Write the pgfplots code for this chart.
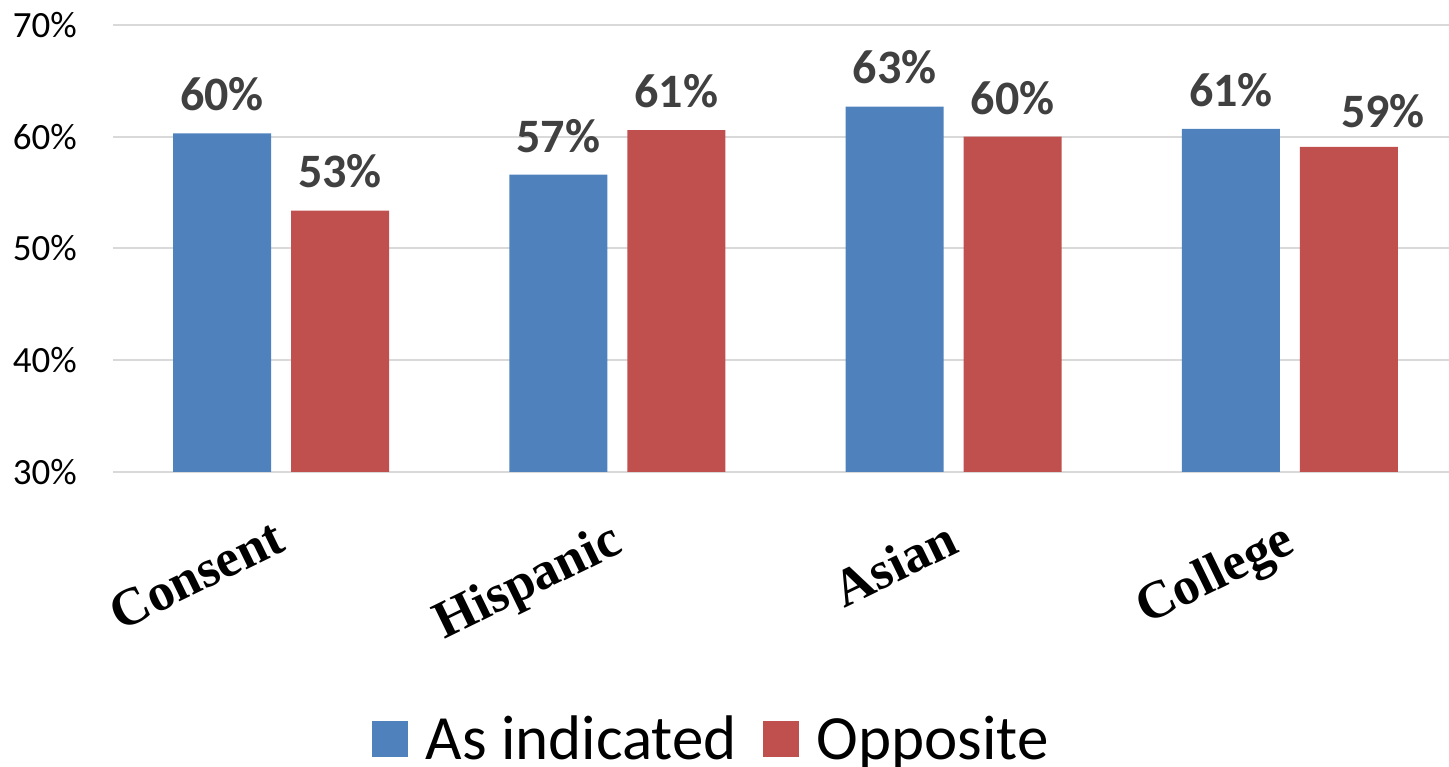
\documentclass[border=0pt]{standalone}
\usepackage{pgfplots}
\pgfplotsset{compat=1.18}
\usepackage{fontspec}
\setmainfont{Carlito}
\newfontfamily\tnr{Liberation Serif}
\definecolor{cblue}{HTML}{4F81BD}
\definecolor{cred}{HTML}{C0504D}
\definecolor{gridc}{HTML}{D9D9D9}
\definecolor{labc}{HTML}{404040}
\pgfplotstableread{
x y lab dx dy
0 60.3 60 0 0
1 56.6 57 0 0
2 62.7 63 0 0
3 60.7 61 0 0
}\blue
\pgfplotstableread{
x y lab dx dy
0 53.4 53 0 0
1 60.6 61 0 0
2 60.0 60 0 0
3 59.1 59 34 -3
}\red
\begin{document}
\begin{tikzpicture}
\begin{axis}[
  scale only axis, width=1336pt, height=447pt,
  xmin=-0.5, xmax=3.473, ymin=30, ymax=70,
  ybar=20pt, bar width=98pt,
  axis line style={draw=none}, major tick length=0pt,
  ytick={30,40,50,60,70}, yticklabels={30\%,40\%,50\%,60\%,70\%},
  ymajorgrids, grid style={gridc, line width=2pt},
  xtick={0,1,2,3}, xticklabels={Consent,Hispanic,Asian,College},
  xticklabel style={font=\tnr\bfseries\fontsize{53}{63}\selectfont, xshift=-9pt, yshift=-46pt, rotate=26, anchor=north east, inner sep=0pt},
  yticklabel style={font=\fontsize{37}{44}\selectfont, inner sep=0pt, xshift=-36pt},
  point meta=explicit symbolic,
  visualization depends on={\thisrow{dx} \as \dx},
  visualization depends on={\thisrow{dy} \as \dy},
  nodes near coords={\pgfplotspointmeta\%},
  every node near coord/.append style={font=\bfseries\fontsize{48}{58}\selectfont, text=labc, inner sep=0pt, anchor=south, yshift=22pt+\dy pt, xshift=\dx pt},
  legend columns=-1,
  legend style={at={(0.447,-0.597)}, anchor=center, draw=none, font=\fontsize{63}{75}\selectfont, nodes={inner sep=0pt},
    /tikz/every odd column/.append style={column sep=18pt},
    /tikz/every even column/.append style={column sep=26pt}},
  legend image code/.code={\fill[#1] (0pt,-18pt) rectangle (36pt,18pt);},
]
\addplot[fill=cblue, draw=none] table[x=x, y=y, meta=lab] {\blue};
\addplot[fill=cred, draw=none] table[x=x, y=y, meta=lab] {\red};
\legend{As indicated, Opposite}
\coordinate (bl) at (rel axis cs:0,0);
\coordinate (tr) at (rel axis cs:1,1);
\end{axis}
\pgfresetboundingbox
\path ([xshift=-113pt,yshift=-295pt]bl) rectangle ([yshift=25pt]tr);
\end{tikzpicture}
\end{document}
